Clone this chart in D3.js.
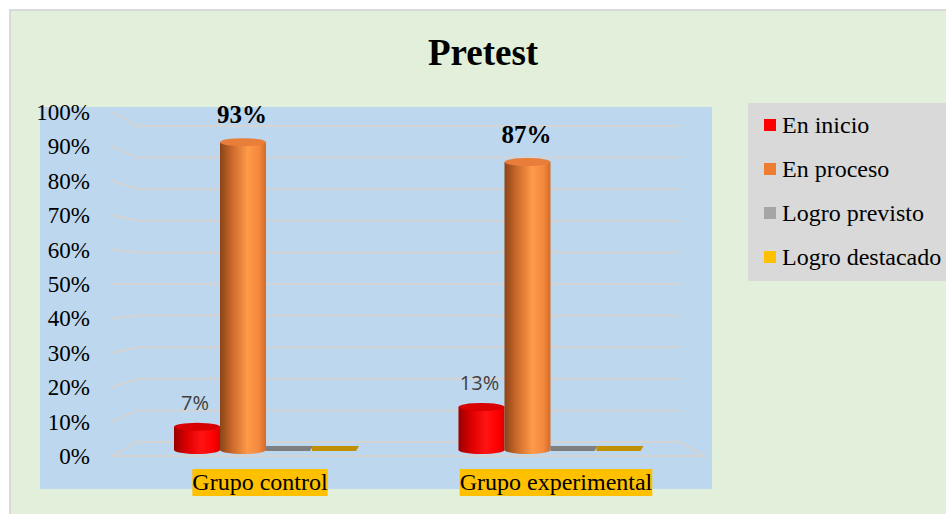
<!DOCTYPE html>
<html>
<head>
<meta charset="utf-8">
<script src="https://cdn.jsdelivr.net/npm/d3@7"></script>
<style>
  body { margin: 0; background: #ffffff; }
  svg { display: block; }
</style>
</head>
<body>
<svg id="chart" width="946" height="514"></svg>
<script>
// ---- Data ----
const title = "Pretest";
const categories = ["Grupo control", "Grupo experimental"];
const seriesNames = ["En inicio", "En proceso", "Logro previsto", "Logro destacado"];
const enInicio = [7, 13];
const enProceso = [93, 87];
const logroPrevisto = [0, 0];
const logroDestacado = [0, 0];
const tickValues = [0, 10, 20, 30, 40, 50, 60, 70, 80, 90, 100];
const tickLabels = tickValues.map(v => v + "%");

const seriesValues = [enInicio, enProceso, logroPrevisto, logroDestacado];
const legendColors = ["#FF0000", "#ED7D31", "#A5A5A5", "#FFC000"];
const zeroColors = ["#C00000", "#C55A11", "#7F7F7F", "#C09000"];
const topColors = ["#D80000", "#E87E3A", "#8F8F8F", "#D9A400"];

const svg = d3.select("#chart");
const defs = svg.append("defs");

// Outer chart area
svg.append("rect").attr("x", 10).attr("y", 10).attr("width", 950).attr("height", 520)
  .attr("fill", "#E2EFDA").attr("stroke", "#D9D9D9").attr("stroke-width", 2);

// Plot area
svg.append("rect").attr("x", 40).attr("y", 107).attr("width", 672).attr("height", 382)
  .attr("fill", "#BDD7EE");

// Title
svg.append("text").attr("x", 483).attr("y", 65).attr("text-anchor", "middle")
  .attr("font-family", "Liberation Serif, Times New Roman, serif")
  .attr("font-weight", "bold").attr("font-size", 37).attr("fill", "#000")
  .text(title);

// Scales
const ySide = d3.scaleLinear().domain([0, 100]).range([456, 112]);
const yBack = d3.scaleLinear().domain([0, 100]).range([442, 126]);
const yBar = d3.scaleLinear().domain([0, 100]).range([450, 119]);
const xFront = d3.scaleBand().domain(categories).range([112, 704]);
const xBar = d3.scaleBand().domain(categories).range([124, 693]);
const xInner = d3.scaleBand().domain(seriesNames).range([50, 234]);

// Gridlines (3D wall)
const grid = svg.append("g").attr("fill", "none").attr("stroke", "#D4D4D4").attr("stroke-width", 2);
tickValues.forEach(t => {
  grid.append("polyline")
    .attr("points", [[112, ySide(t)], [137, yBack(t)], [680, yBack(t)]].map(p => p.join(",")).join(" "));
});
// floor front edge
grid.append("polyline")
  .attr("points", [[112, ySide(0)], [704, ySide(0)], [680, yBack(0)]].map(p => p.join(",")).join(" "));

// Tick labels
svg.append("g").selectAll("text").data(tickValues).join("text")
  .attr("x", 90).attr("y", d => ySide(d)).attr("dy", "0.35em")
  .attr("text-anchor", "end")
  .attr("font-family", "Liberation Serif, Times New Roman, serif")
  .attr("font-size", 23).attr("fill", "#000")
  .text((d, i) => tickLabels[i]);

// Gradients for cylinders
function makeGrad(id, stops) {
  const g = defs.append("linearGradient").attr("id", id).attr("x1", "0%").attr("x2", "100%").attr("y1", "0%").attr("y2", "0%");
  stops.forEach(s => g.append("stop").attr("offset", s[0]).attr("stop-color", s[1]));
}
makeGrad("g0", [["0%", "#9A0000"], ["30%", "#E00000"], ["60%", "#FF1414"], ["85%", "#FF0000"], ["100%", "#D80000"]]);
makeGrad("g1", [["0%", "#8A4418"], ["25%", "#C8672A"], ["60%", "#FF9A48"], ["85%", "#F3883E"], ["100%", "#D46A28"]]);
makeGrad("g2", [["0%", "#6E6E6E"], ["60%", "#B5B5B5"], ["100%", "#8F8F8F"]]);
makeGrad("g3", [["0%", "#A07800"], ["60%", "#FFC830"], ["100%", "#D9A400"]]);

// Bars
const bars = svg.append("g");
categories.forEach((cat, ci) => {
  seriesNames.forEach((s, si) => {
    const v = seriesValues[si][ci];
    const x0 = xBar(cat) + xInner(s);
    const w = xInner.bandwidth();
    const yb = yBar(0);
    const yt = yBar(v);
    if (v <= 0) {
      bars.append("polygon")
        .attr("points", [[x0, yb - 4], [x0 + w + 1, yb - 4], [x0 + w - 2, yb + 1], [x0, yb + 1]].map(p => p.join(",")).join(" "))
        .attr("fill", zeroColors[si]);
      return;
    }
    const rx = w / 2, ry = 4;
    bars.append("ellipse").attr("cx", x0 + rx).attr("cy", yb).attr("rx", rx).attr("ry", ry)
      .attr("fill", `url(#g${si})`);
    bars.append("rect").attr("x", x0).attr("y", yt).attr("width", w).attr("height", yb - yt)
      .attr("fill", `url(#g${si})`);
    bars.append("ellipse").attr("cx", x0 + rx).attr("cy", yt).attr("rx", rx).attr("ry", ry)
      .attr("fill", topColors[si]);
  });
});

// Data labels
categories.forEach((cat, ci) => {
  const s0 = seriesNames[0], s1 = seriesNames[1];
  const v0 = enInicio[ci], v1 = enProceso[ci];
  const w = xInner.bandwidth();
  svg.append("text")
    .attr("x", xBar(cat) + xInner(s0) + w / 2 - 2).attr("y", yBar(v0) - 17)
    .attr("text-anchor", "middle")
    .attr("font-family", "Open Sans, Liberation Sans, sans-serif")
    .attr("font-size", 20).attr("fill", "#404040")
    .text(v0 + "%");
  svg.append("text")
    .attr("x", xBar(cat) + xInner(s1) + w / 2 - 1).attr("y", yBar(v1) - 19)
    .attr("text-anchor", "middle")
    .attr("font-family", "Liberation Serif, Times New Roman, serif")
    .attr("font-weight", "bold").attr("font-size", 25).attr("fill", "#000")
    .text(v1 + "%");
});

// Category labels with highlight
const catG = svg.append("g");
categories.forEach(cat => {
  const cx = xFront(cat) + xFront.bandwidth() / 2;
  const bg = catG.append("rect").attr("fill", "#FFC000");
  const t = catG.append("text").attr("x", cx).attr("y", 490).attr("text-anchor", "middle")
    .attr("font-family", "Liberation Serif, Times New Roman, serif")
    .attr("font-size", 24).attr("fill", "#000").text(cat);
  const len = t.node().getComputedTextLength();
  bg.attr("x", cx - len / 2).attr("y", 469).attr("width", len).attr("height", 27);
});

// Legend
svg.append("rect").attr("x", 748).attr("y", 103).attr("width", 210).attr("height", 178).attr("fill", "#D9D9D9");
const leg = svg.append("g").selectAll("g").data(seriesNames).join("g")
  .attr("transform", (d, i) => `translate(764, ${133 + i * 44})`);
leg.append("rect").attr("x", 0).attr("y", -14).attr("width", 12).attr("height", 12)
  .attr("fill", (d, i) => legendColors[i]);
leg.append("text").attr("x", 18).attr("y", 0)
  .attr("font-family", "Liberation Serif, Times New Roman, serif")
  .attr("font-size", 24).attr("fill", "#000").text(d => d);
</script>
</body>
</html>
